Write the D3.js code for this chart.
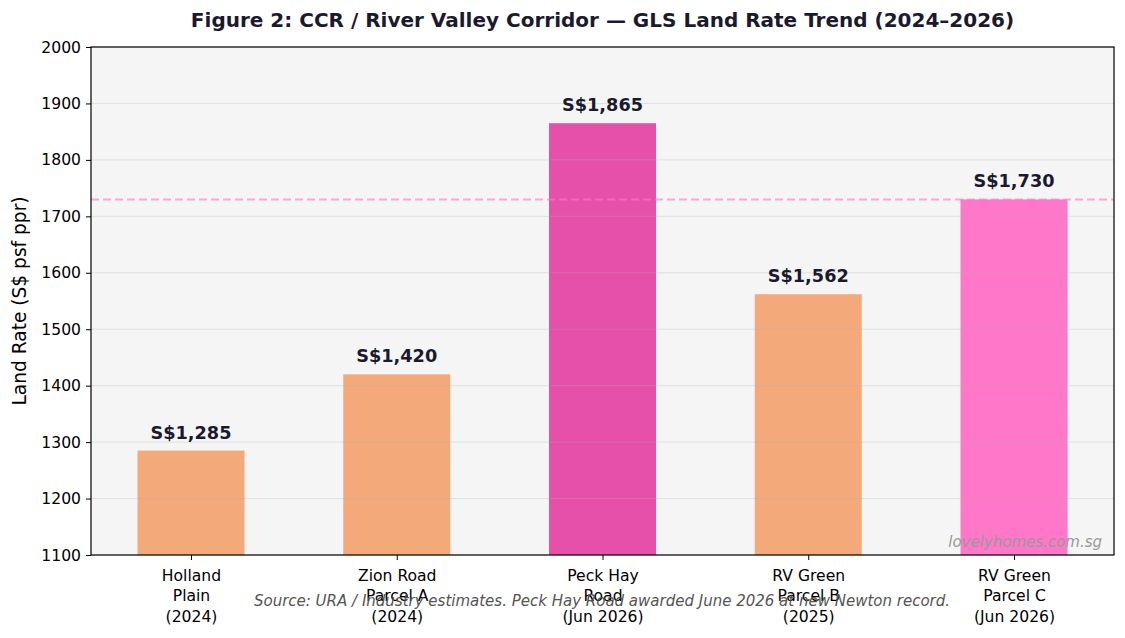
<!DOCTYPE html>
<html>
<head>
<meta charset="utf-8">
<script src="https://cdn.jsdelivr.net/npm/d3@7"></script>
<style>
  body { margin: 0; background: #fff; }
  svg { display: block; font-family: "DejaVu Sans", sans-serif; }
</style>
</head>
<body>
<svg id="chart"></svg>
<script>
// chart data
var categories = [
  ['Holland', 'Plain', '(2024)'],
  ['Zion Road', 'Parcel A', '(2024)'],
  ['Peck Hay', 'Road', '(Jun 2026)'],
  ['RV Green', 'Parcel B', '(2025)'],
  ['RV Green', 'Parcel C', '(Jun 2026)']
];
var landRates = [1285, 1420, 1865, 1562, 1730];
var barColors = ['#F3A97A', '#F3A97A', '#E650AA', '#F3A97A', '#FF77C8'];
var refValue = 1730;
var yTicks = [1100, 1200, 1300, 1400, 1500, 1600, 1700, 1800, 1900, 2000];

var title = 'Figure 2: CCR / River Valley Corridor \u2014 GLS Land Rate Trend (2024\u20132026)';
var yLabel = 'Land Rate (S$ psf ppr)';
var sourceNote = 'Source: URA / Industry estimates. Peck Hay Road awarded June 2026 at new Newton record.';
var watermark = 'lovelyhomes.com.sg';

// layout
var width = 1125, height = 638;
var margin = {top: 47, right: 11, bottom: 83, left: 91};
var innerW = width - margin.left - margin.right;
var innerH = height - margin.top - margin.bottom;
var barWidth = 0.52;
var font = 'DejaVu Sans';

var svg = d3.select('#chart')
  .attr('width', width)
  .attr('height', height);

// scales
var x = d3.scaleLinear()
  .domain([-0.486, categories.length - 1 + 0.486])
  .range([0, innerW]);
var y = d3.scaleLinear()
  .domain([1100, 2000])
  .range([innerH, 0]);

var g = svg.append('g')
  .attr('transform', 'translate(' + margin.left + ',' + margin.top + ')');

// plot background
g.append('rect')
  .attr('width', innerW)
  .attr('height', innerH)
  .attr('fill', '#f5f5f5');

// bars
var barPx = x(barWidth) - x(0);
g.selectAll('rect.bar')
  .data(landRates)
  .enter()
  .append('rect')
    .attr('class', 'bar')
    .attr('x', function(d, i) { return x(i) - barPx / 2; })
    .attr('y', function(d) { return y(d); })
    .attr('width', barPx)
    .attr('height', function(d) { return y(1100) - y(d); })
    .attr('fill', function(d, i) { return barColors[i]; });

// grid lines (drawn over bars, faint)
g.selectAll('line.grid')
  .data(yTicks)
  .enter()
  .append('line')
    .attr('class', 'grid')
    .attr('x1', 0)
    .attr('x2', innerW)
    .attr('y1', function(d) { return y(d); })
    .attr('y2', function(d) { return y(d); })
    .attr('stroke', '#b0b0b0')
    .attr('stroke-opacity', 0.3)
    .attr('stroke-width', 1);

// reference line
g.append('line')
  .attr('x1', 0)
  .attr('x2', innerW)
  .attr('y1', y(refValue))
  .attr('y2', y(refValue))
  .attr('stroke', '#FF77C8')
  .attr('stroke-opacity', 0.6)
  .attr('stroke-width', 2)
  .attr('stroke-dasharray', '8,4');

// value labels
g.selectAll('text.value')
  .data(landRates)
  .enter()
  .append('text')
    .attr('class', 'value')
    .attr('x', function(d, i) { return x(i); })
    .attr('y', function(d) { return y(d) - 12; })
    .attr('text-anchor', 'middle')
    .attr('font-size', 17.7)
    .attr('font-weight', 'bold')
    .attr('fill', '#1a1a2e')
    .text(function(d) { return 'S$' + d3.format(',')(d); });

// axes
var yAxis = g.append('g')
  .call(d3.axisLeft(y).tickValues(yTicks).tickFormat(d3.format('d')).tickSize(5).tickPadding(5))
  .attr('font-family', font)
  .attr('font-size', 15.6);
yAxis.selectAll('text').attr('fill', '#000');
yAxis.selectAll('line').attr('stroke', '#000');
yAxis.select('.domain').remove();

var xAxis = g.append('g')
  .attr('transform', 'translate(0,' + innerH + ')')
  .call(d3.axisBottom(x).tickValues(d3.range(categories.length)).tickSize(5).tickFormat(''))
  .attr('font-family', font)
  .attr('font-size', 15.6);
xAxis.selectAll('line').attr('stroke', '#000');
xAxis.select('.domain').remove();

xAxis.selectAll('g.tick')
  .append('text')
    .attr('text-anchor', 'middle')
    .attr('fill', '#000')
    .selectAll('tspan')
    .data(function(d) { return categories[d]; })
    .enter()
    .append('tspan')
      .attr('x', 0)
      .attr('y', function(d, i) { return 26 + i * 20.4; })
      .text(function(d) { return d; });

// frame
g.append('rect')
  .attr('width', innerW)
  .attr('height', innerH)
  .attr('fill', 'none')
  .attr('stroke', '#000')
  .attr('stroke-width', 1.2);

// watermark
g.append('text')
  .attr('x', innerW - 12)
  .attr('y', innerH - 8)
  .attr('text-anchor', 'end')
  .attr('font-size', 15)
  .attr('font-style', 'italic')
  .attr('fill', '#999')
  .text(watermark);

// title
svg.append('text')
  .attr('x', margin.left + innerW / 2)
  .attr('y', 27)
  .attr('text-anchor', 'middle')
  .attr('font-size', 20)
  .attr('font-weight', 'bold')
  .attr('fill', '#1a1a2e')
  .text(title);

// y label
svg.append('text')
  .attr('transform', 'translate(26,' + (margin.top + innerH / 2) + ') rotate(-90)')
  .attr('text-anchor', 'middle')
  .attr('font-size', 18.6)
  .attr('fill', '#000')
  .text(yLabel);

// source note
svg.append('text')
  .attr('x', 602)
  .attr('y', 606)
  .attr('text-anchor', 'middle')
  .attr('font-size', 15)
  .attr('font-style', 'italic')
  .attr('fill', '#555')
  .text(sourceNote);
</script>
</body>
</html>
